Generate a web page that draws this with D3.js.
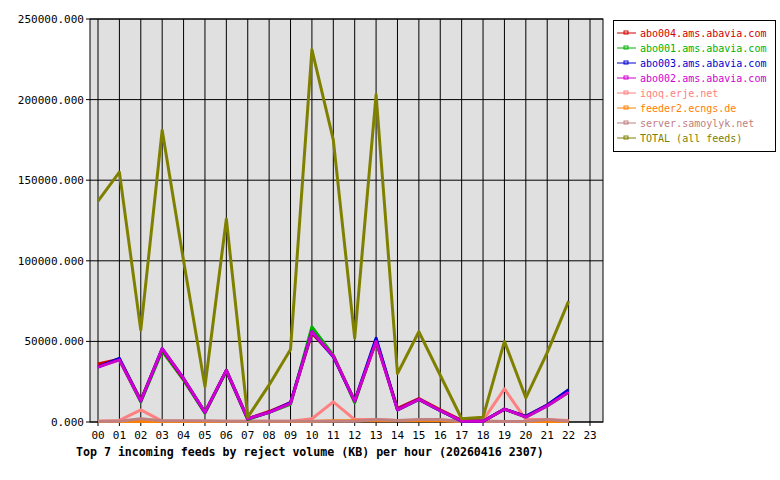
<!DOCTYPE html><html><head><meta charset="utf-8">
<script src="https://cdn.jsdelivr.net/npm/d3@7"></script>
<style>body{margin:0;background:#fff}text{font-family:"DejaVu Sans Mono",monospace}</style></head><body>
<svg id="c" width="780" height="480"></svg>
<script>
const hours=["00","01","02","03","04","05","06","07","08","09","10","11","12","13","14","15","16","17","18","19","20","21","22","23"];
const yTicks=[0,50000,100000,150000,200000,250000];
const names=["abo004.ams.abavia.com","abo001.ams.abavia.com","abo003.ams.abavia.com","abo002.ams.abavia.com","iqoq.erje.net","feeder2.ecngs.de","server.samoylyk.net","TOTAL (all feeds)"];
const colors=["#d00000","#00b000","#0000d0","#d000d0","#ff8080","#ff8000","#c08080","#808000"];
const abo004=[36000,39000,13500,45000,26500,6000,32000,2000,6500,12000,55000,41000,13000,50000,8500,14500,7500,1000,500,8000,3500,10500,19000];
const abo001=[34500,38500,12500,44000,26000,5500,31500,1500,6000,11000,59000,41500,12000,51000,7500,14000,7000,500,500,8000,3000,10000,18500];
const abo003=[34000,39500,13000,45500,27000,6000,32000,2000,6000,12000,56000,40500,13000,52000,7500,14000,7000,500,500,8000,3500,10500,20000];
const abo002=[34000,38500,13000,45500,27000,6000,32000,2000,6000,11500,56000,41000,13000,50000,7500,14000,7000,500,500,8000,3000,10000,18500];
const iqoq=[500,1000,7500,500,500,500,500,500,500,500,2000,12500,1500,1500,1000,1000,1000,500,1000,20500,1500,1500,1000];
const feeder2=[300,300,300,300,300,300,300,300,300,300,300,800,800,800,800,800,800,500,500,300,300,300,300];
const server=[500,500,2000,800,800,800,500,500,500,500,500,500,500,1500,1000,1500,1500,500,500,300,500,1500,500];
const total=[137000,155000,57000,181000,100000,22000,126000,3000,23000,45000,231000,175000,52000,203000,30000,56000,29000,2000,3000,50000,15000,43000,75000];
const series=[abo004,abo001,abo003,abo002,iqoq,feeder2,server,total];
const svg=d3.select("#c");
const L=90,R=603,T=19,B=422;
const x=d3.scalePoint().domain(hours).range([98,590]);
const y=d3.scaleLinear().domain([0,250000]).range([B,T]);
svg.append("rect").attr("x",L).attr("y",T).attr("width",R-L).attr("height",B-T).attr("fill","#e0e0e0").attr("stroke","#000");
hours.forEach(h=>svg.append("line").attr("x1",x(h)).attr("x2",x(h)).attr("y1",T).attr("y2",B+4).attr("stroke","#000"));
yTicks.forEach(t=>{svg.append("line").attr("x1",L-4).attr("x2",R).attr("y1",y(t)).attr("y2",y(t)).attr("stroke","#000");
 svg.append("text").attr("x",L-6).attr("y",y(t)+4).attr("text-anchor","end").attr("font-size",11).text(t.toFixed(3));});
hours.forEach(h=>svg.append("text").attr("x",x(h)).attr("y",B+17).attr("text-anchor","middle").attr("font-size",11).text(h));
const line=d3.line().x((d,i)=>x(hours[i])).y(d=>y(d));
[4,5,6,1,0,2,3,7].forEach(k=>svg.append("path").attr("d",line(series[k])).attr("fill","none").attr("stroke",colors[k]).attr("stroke-width",3).attr("stroke-linejoin","round"));
svg.append("text").attr("x",76).attr("y",456).attr("font-size",11.6).attr("font-weight","bold").text("Top 7 incoming feeds by reject volume (KB) per hour (20260416 2307)");
svg.append("rect").attr("x",613.5).attr("y",20.5).attr("width",162).attr("height",131).attr("fill","#fff").attr("stroke","#000");
names.forEach((n,i)=>{const yy=37+i*15;
 svg.append("line").attr("x1",617).attr("x2",636).attr("y1",yy-4).attr("y2",yy-4).attr("stroke",colors[i]);
 svg.append("rect").attr("x",624).attr("y",yy-6).attr("width",4).attr("height",3).attr("fill","none").attr("stroke",colors[i]);
 svg.append("text").attr("x",640).attr("y",yy).attr("font-size",10).attr("fill",colors[i]).text(n);});
</script></body></html>
